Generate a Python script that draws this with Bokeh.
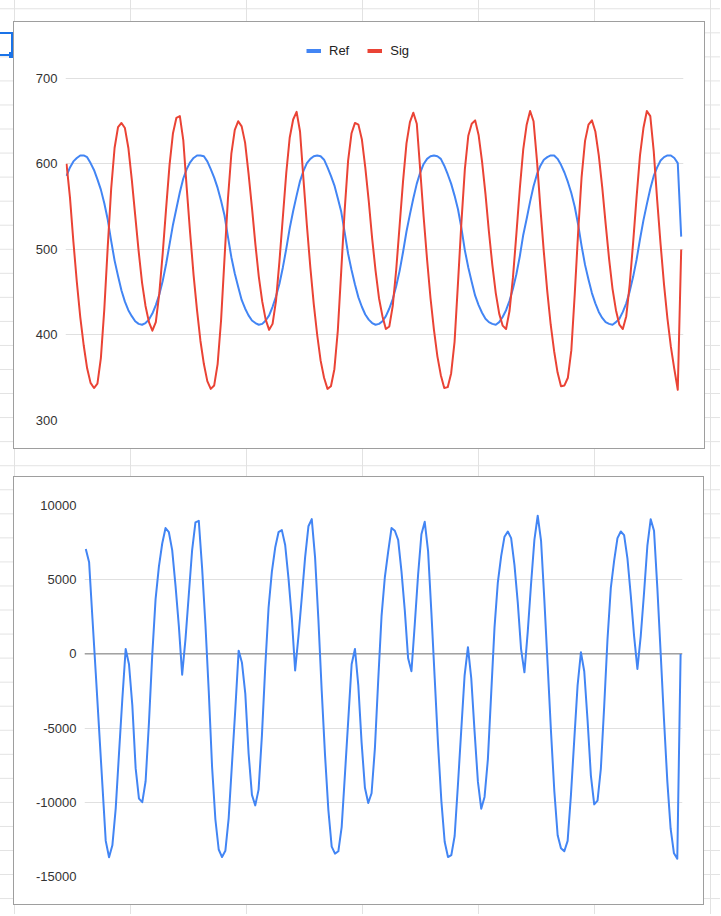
from bokeh.plotting import figure
from bokeh.models import Range1d, FixedTicker, Span, Legend, LegendItem
from bokeh.layouts import column
from bokeh.embed import file_html
from bokeh.resources import INLINE

# ---------------- data ----------------
series_names = ["Ref", "Sig"]

ref = [586, 596, 603, 607, 610, 610, 608, 601, 593, 582, 570, 554, 535, 510, 487, 469, 452, 439, 429, 422,
       416, 413, 412, 414, 418, 425, 435, 447, 463, 483, 506, 529, 548, 567, 583, 594, 602, 607, 610, 610,
       609, 603, 594, 584, 572, 557, 540, 515, 491, 472, 456, 441, 431, 423, 417, 414, 412, 413, 417, 423,
       433, 445, 460, 479, 501, 525, 545, 563, 580, 592, 601, 606, 609, 610, 609, 605, 596, 586, 575, 560,
       544, 520, 495, 476, 459, 444, 433, 424, 418, 414, 412, 413, 416, 422, 431, 442, 457, 475, 497, 521,
       541, 560, 577, 590, 600, 606, 609, 610, 609, 606, 598, 588, 577, 563, 547, 525, 499, 479, 462, 446,
       435, 426, 419, 415, 413, 412, 415, 421, 429, 440, 454, 471, 492, 517, 536, 556, 574, 588, 598, 605,
       608, 610, 610, 606, 599, 590, 579, 566, 550, 529, 504, 482, 465, 449, 437, 427, 420, 415, 413, 412,
       415, 419, 427, 437, 451, 468, 488, 512, 534, 553, 571, 586, 596, 604, 608, 610, 610, 607, 601, 515]

sig = [600, 561, 509, 462, 421, 388, 361, 344, 338, 343, 373, 430, 503, 571, 619, 643, 648, 642, 619, 582,
       540, 498, 461, 434, 415, 405, 415, 448, 495, 548, 599, 636, 654, 656, 628, 572, 519, 470, 429, 393,
       366, 346, 337, 341, 366, 417, 489, 559, 612, 640, 650, 644, 625, 589, 549, 506, 468, 439, 418, 406,
       413, 440, 486, 538, 590, 631, 652, 661, 638, 582, 528, 479, 436, 400, 370, 350, 337, 340, 360, 405,
       475, 546, 604, 636, 648, 646, 629, 596, 557, 513, 475, 443, 422, 407, 410, 434, 476, 528, 580, 624,
       649, 660, 647, 593, 538, 488, 443, 406, 375, 353, 338, 339, 355, 392, 461, 532, 594, 633, 647, 651,
       634, 603, 565, 521, 482, 449, 425, 411, 407, 428, 467, 518, 571, 617, 646, 662, 650, 604, 548, 497,
       451, 412, 381, 356, 340, 341, 350, 382, 448, 521, 585, 627, 646, 651, 638, 610, 573, 530, 489, 454,
       429, 412, 407, 422, 459, 508, 561, 610, 642, 662, 656, 615, 558, 506, 459, 419, 386, 360, 336, 500]

mix = [7070, 6170, 2400, -1300, -5070, -8840, -12600, -13700, -12900, -10430,
       -6690, -3020, 330, -700, -3450, -7700, -9750, -9990, -8580, -4660,
       -65, 3690, 5880, 7440, 8480, 8200, 6990, 4600, 1885, -1400,
       1000, 4000, 7000, 8860, 8970, 5800, 2000, -2500, -7600, -11160,
       -13180, -13690, -13270, -11060, -7375, -3710, 220, -600, -2680, -6730,
       -9500, -10210, -9145, -5510, -900, 3110, 5540, 7165, 8200, 8340,
       7340, 5090, 2410, -1120, 1200, 3800, 6500, 8600, 9080, 6500,
       2300, -2500, -6840, -10530, -12990, -13460, -13300, -11670, -8065, -4400,
       -700, 336, -2100, -5980, -9025, -10050, -9390, -6370, -1780, 2540,
       5180, 6890, 8480, 8300, 7680, 5560, 2930, -300, -1170, 2000,
       5330, 8060, 8900, 6950, 2800, -1640, -6080, -9900, -12660, -13690,
       -13560, -12270, -8780, -5090, -1440, 450, -1640, -5240, -8610, -10430,
       -9640, -7110, -2660, 1790, 4825, 6590, 7900, 8250, 7800, 6000,
       3450, 300, -1240, 1500, 4725, 7680, 9310, 7640, 3625, -790,
       -5250, -9260, -12220, -13100, -13300, -12600, -9495, -5775, -2125, 110,
       -1170, -4470, -8200, -10140, -9890, -7740, -3540, 990, 4450, 6280,
       7800, 8250, 8000, 6435, 3950, 1210, -1010, 1200, 4120, 7290,
       9080, 8300, 4450, 55, -4425, -8570, -11780, -13435, -13800, 0]

top_ticks = [300, 400, 500, 600, 700]
bottom_ticks = [-15000, -10000, -5000, 0, 5000, 10000]

x = list(range(len(ref)))

BLUE = "#4285F4"
RED = "#EA4335"
FONT = "Liberation Sans"
GRID = "#e0e0e0"


def sheet_styles(box, grid_y0, selection=False):
    bx, by, bw, bh = box
    layers = [
        ("linear-gradient(#ffffff,#ffffff)", f"{bx + 1}px {by + 1}px", f"{bw - 2}px {bh - 2}px", "no-repeat"),
        ("linear-gradient(#9e9e9e,#9e9e9e)", f"{bx}px {by}px", f"{bw}px {bh}px", "no-repeat"),
    ]
    if selection:
        b = "linear-gradient(#1a73e8,#1a73e8)"
        layers += [
            (b, "9px 52px", "5px 6px", "no-repeat"),
            (b, "11px 32px", "2px 24px", "no-repeat"),
            (b, "0px 32px", "13px 2px", "no-repeat"),
            (b, "0px 54px", "13px 2px", "no-repeat"),
        ]
    layers += [
        ("linear-gradient(to right, #e2e2e2 0px, #e2e2e2 1px, transparent 1px)", "14px 0px", "116px 100%", "repeat"),
        ("linear-gradient(to bottom, #e2e2e2 0px, #e2e2e2 1px, transparent 1px)", f"0px {grid_y0}px", "100% 24.05px", "repeat"),
    ]
    return {
        "background-color": "#ffffff",
        "background-image": ", ".join(l[0] for l in layers),
        "background-position": ", ".join(l[1] for l in layers),
        "background-size": ", ".join(l[2] for l in layers),
        "background-repeat": ", ".join(l[3] for l in layers),
    }


def style_axes(p, ticks):
    p.xaxis.visible = False
    p.xgrid.visible = False
    ax = p.yaxis[0]
    ax.ticker = FixedTicker(ticks=ticks)
    ax.major_label_overrides = {t: str(t) for t in ticks}
    ax.axis_line_color = None
    ax.major_tick_line_color = None
    ax.minor_tick_line_color = None
    ax.major_tick_in = 0
    ax.major_tick_out = 0
    ax.major_label_standoff = 8
    ax.major_label_text_font = FONT
    ax.major_label_text_font_size = "13px"
    ax.major_label_text_color = "#333333"
    p.ygrid.grid_line_color = GRID
    p.ygrid.grid_line_width = 1


# ---------------- top chart ----------------
# frame spans page y 30..420; 300 sits at the bottom, 700 at y=78, legend lives above 700
top = figure(width=720, height=462, x_range=Range1d(-0.3, 179.67), y_range=Range1d(300, 756.1),
             output_backend="svg", toolbar_location=None, frame_align=False,
             min_border_left=65, min_border_right=37, min_border_top=30, min_border_bottom=42,
             border_fill_color=None, background_fill_color="#ffffff", outline_line_color=None)
style_axes(top, top_ticks)
top.line(x, ref, line_color=BLUE, line_width=2, line_join="round")
top.line(x, sig, line_color=RED, line_width=2, line_join="round")

# legend swatches: single-point lines (draw nothing in the plot, only in the legend)
sw_ref = top.line(x[:1], ref[:1], line_color=BLUE, line_width=4)
sw_sig = top.line(x[:1], sig[:1], line_color=RED, line_width=4)
legend = Legend(items=[LegendItem(label=series_names[0], renderers=[sw_ref]),
                       LegendItem(label=series_names[1], renderers=[sw_sig])],
                location=(241, 362), orientation="horizontal", padding=0, margin=0, spacing=18,
                glyph_width=15, glyph_height=15, label_standoff=8,
                border_line_color=None, background_fill_alpha=0,
                label_text_font=FONT, label_text_font_size="13px", label_text_color="#222222")
top.add_layout(legend)
top.styles = sheet_styles((13, 21, 692, 428), 8.3, selection=True)

# ---------------- bottom chart ----------------
bot = figure(width=720, height=452, x_range=Range1d(-0.39, 179.57), y_range=Range1d(-15000, 10000),
             output_backend="svg", toolbar_location=None, frame_align=False,
             min_border_left=84, min_border_right=38, min_border_top=43, min_border_bottom=38,
             border_fill_color=None, background_fill_color="#ffffff", outline_line_color=None)
style_axes(bot, bottom_ticks)
zero = Span(location=0, dimension="width", line_color="#7a7a7a", line_width=1, level="underlay")
bot.add_layout(zero)
bot.line(x, mix, line_color=BLUE, line_width=2, line_join="round")
bot.styles = sheet_styles((13, 14, 691, 429), 3.25)

layout = column(top, bot, spacing=0)
open("out.html", "w").write(file_html(layout, INLINE))
